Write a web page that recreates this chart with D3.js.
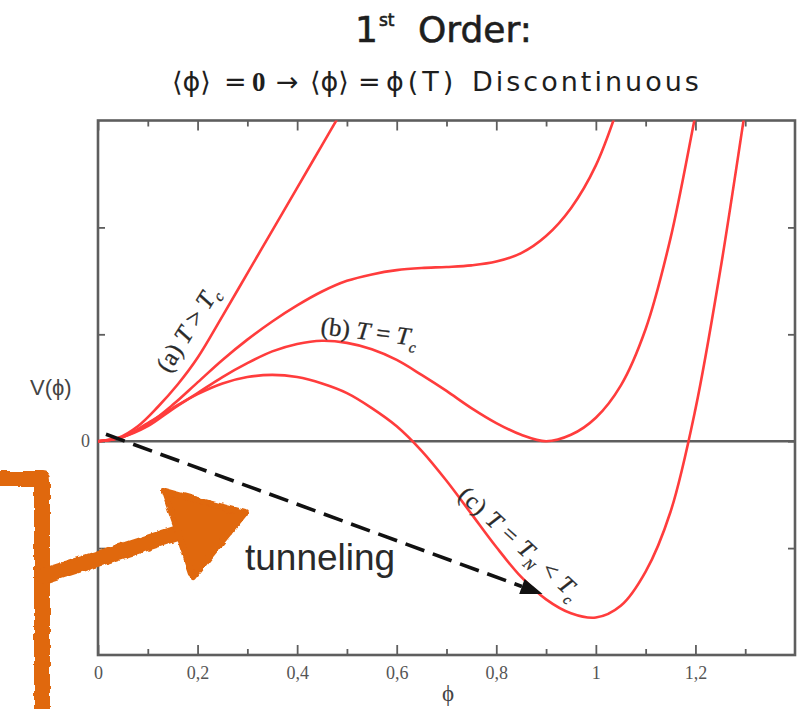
<!DOCTYPE html>
<html><head><meta charset="utf-8">
<script src="https://cdn.jsdelivr.net/npm/d3@7"></script>
<style>body{margin:0;background:#fff;} svg{display:block;}</style>
</head><body>
<svg id="chart" width="808" height="709"></svg>
<script>
// ---- data ----
const phiA = [0, 0.04, 0.08, 0.12, 0.16, 0.2, 0.25, 0.3, 0.35, 0.4, 0.45, 0.5];
const vA   = [0, 0.03, 0.14, 0.32, 0.53, 0.78, 1.17, 1.57, 1.97, 2.37, 2.77, 3.17];

const phiI = [0, 0.05, 0.1, 0.15, 0.2, 0.25, 0.3, 0.35, 0.4, 0.45, 0.5, 0.55, 0.6, 0.65, 0.7, 0.75, 0.8, 0.85, 0.9, 0.95, 1.0, 1.05];
const vI   = [0, 0.04, 0.16, 0.34, 0.55, 0.76, 0.95, 1.12, 1.27, 1.40, 1.50, 1.56, 1.60, 1.62, 1.63, 1.645, 1.68, 1.76, 1.92, 2.18, 2.58, 3.2];

const phiB = [0, 0.05, 0.1, 0.15, 0.2, 0.25, 0.3, 0.35, 0.4, 0.45, 0.5, 0.55, 0.6, 0.65, 0.7, 0.75, 0.8, 0.85, 0.9, 0.95, 1.0, 1.05, 1.1, 1.15, 1.2, 1.22];
const vB   = [0, 0.04, 0.14, 0.30, 0.45, 0.60, 0.73, 0.84, 0.91, 0.94, 0.92, 0.86, 0.76, 0.62, 0.47, 0.31, 0.17, 0.06, 0.0, 0.06, 0.22, 0.52, 1.05, 1.90, 3.05, 3.5];

const phiC = [0, 0.05, 0.1, 0.15, 0.2, 0.25, 0.3, 0.35, 0.4, 0.45, 0.5, 0.55, 0.6, 0.65, 0.7, 0.75, 0.8, 0.85, 0.9, 0.95, 1.0, 1.05, 1.1, 1.15, 1.2, 1.25, 1.3, 1.32];
const vC   = [0, 0.04, 0.17, 0.31, 0.44, 0.54, 0.60, 0.62, 0.60, 0.54, 0.45, 0.31, 0.14, -0.09, -0.37, -0.68, -0.99, -1.27, -1.48, -1.61, -1.65, -1.54, -1.22, -0.66, 0.30, 1.6, 3.1, 3.7];

const xMajorTicks = [0, 0.2, 0.4, 0.6, 0.8, 1, 1.2];
const xTickLabels = ["0", "0,2", "0,4", "0,6", "0,8", "1", "1,2"];
const xMinorTicks = [0.1, 0.3, 0.5, 0.7, 0.9, 1.1, 1.3];
const yTicks = [-1, 0, 1, 2];
const yTickLabels = ["", "0", "", ""];

const tunnelFrom = [0.016, 0.065];
const tunnelTo   = [0.893, -1.43];

// ---- layout ----
const svg = d3.select("#chart");
const L = 98, R = 795, T = 120.5, B = 655;
const x = d3.scaleLinear().domain([0, 1.4]).range([L, R]);
const y = d3.scaleLinear().domain([-2, 3]).range([B, T]);
const frameColor = "#5e5e5e";

const defs = svg.append("defs");
defs.append("clipPath").attr("id", "plotclip")
  .append("rect").attr("x", L).attr("y", T).attr("width", R - L).attr("height", B - T);
const rough = defs.append("filter").attr("id", "rough")
  .attr("x", "-10%").attr("y", "-10%").attr("width", "120%").attr("height", "120%");
rough.append("feTurbulence").attr("type", "fractalNoise").attr("baseFrequency", 0.12)
  .attr("numOctaves", 2).attr("seed", 3).attr("result", "noise");
rough.append("feDisplacementMap").attr("in", "SourceGraphic").attr("in2", "noise")
  .attr("scale", 5).attr("xChannelSelector", "R").attr("yChannelSelector", "G");

// ---- title ----
const title = svg.append("text").attr("x", 355).attr("y", 42)
  .attr("font-family", "DejaVu Sans").attr("font-size", 36).attr("fill", "#1e1e1e")
  .attr("stroke", "#1e1e1e").attr("stroke-width", 0.6);
title.append("tspan").text("1");
title.append("tspan").attr("font-size", 17).attr("dy", -16).attr("dx", 1).text("st");
title.append("tspan").attr("dy", 16).attr("x", 418).text("Order:");

// subtitle pieces placed along the line as in the reference
const subPieces = [
  { t: "⟨ϕ⟩", x: 172 },
  { t: "=", x: 224 },
  { t: "0", x: 252, bold: true },
  { t: "→", x: 276 },
  { t: "⟨ϕ⟩", x: 310 },
  { t: "=", x: 358 },
  { t: "ϕ(T)", x: 386, ls: 4 },
  { t: "Discontinuous", x: 472, ls: 3 }
];
const sub = svg.append("text").attr("y", 91)
  .attr("font-family", "DejaVu Sans").attr("font-size", 27).attr("fill", "#1e1e1e");
subPieces.forEach(p => {
  const s = sub.append("tspan").attr("x", p.x).text(p.t);
  if (p.bold) s.attr("font-family", "Liberation Serif").attr("font-weight", "bold");
  if (p.ls) s.attr("letter-spacing", p.ls);
});

// ---- axes ----
svg.append("g").attr("transform", `translate(0,${B})`)
  .call(d3.axisBottom(x).tickValues(xMajorTicks).tickSizeInner(-10).tickSizeOuter(0)
    .tickPadding(11).tickFormat((d, i) => xTickLabels[i]));
svg.append("g").attr("transform", `translate(0,${B})`)
  .call(d3.axisBottom(x).tickValues(xMinorTicks).tickSizeInner(-6).tickSizeOuter(0).tickFormat(""));
svg.append("g").attr("transform", `translate(0,${T})`)
  .call(d3.axisTop(x).tickValues(xMajorTicks).tickSizeInner(-10).tickSizeOuter(0).tickFormat(""));
svg.append("g").attr("transform", `translate(0,${T})`)
  .call(d3.axisTop(x).tickValues(xMinorTicks).tickSizeInner(-6).tickSizeOuter(0).tickFormat(""));
svg.append("g").attr("transform", `translate(${L},0)`)
  .call(d3.axisLeft(y).tickValues(yTicks).tickSizeInner(-7).tickSizeOuter(0)
    .tickPadding(8).tickFormat((d, i) => yTickLabels[i]));
svg.append("g").attr("transform", `translate(${R},0)`)
  .call(d3.axisRight(y).tickValues(yTicks).tickSizeInner(-7).tickSizeOuter(0).tickFormat(""));

svg.selectAll(".domain").remove();
svg.selectAll(".tick line").attr("stroke", frameColor).attr("stroke-width", 1.8);
svg.selectAll(".tick text").attr("font-family", "Liberation Serif").attr("font-size", 18).attr("fill", "#555");

svg.append("rect").attr("x", L).attr("y", T).attr("width", R - L).attr("height", B - T)
  .attr("fill", "none").attr("stroke", frameColor).attr("stroke-width", 2.6);
svg.append("line").attr("x1", x(0)).attr("x2", x(1.4)).attr("y1", y(0)).attr("y2", y(0))
  .attr("stroke", frameColor).attr("stroke-width", 2.6);

svg.append("text").attr("x", 30).attr("y", 395).attr("font-family", "Liberation Sans")
  .attr("font-size", 22).attr("fill", "#444").text("V(ϕ)");
svg.append("text").attr("x", 448).attr("y", 701).attr("text-anchor", "middle")
  .attr("font-family", "Liberation Serif").attr("font-size", 23).attr("fill", "#444").text("ϕ");

// ---- curves ----
const series = [
  { phi: phiA, v: vA },
  { phi: phiI, v: vI },
  { phi: phiB, v: vB },
  { phi: phiC, v: vC }
];
const line = d3.line().x(d => x(d[0])).y(d => y(d[1])).curve(d3.curveCatmullRom.alpha(0.5));
svg.append("g").attr("clip-path", "url(#plotclip)")
  .selectAll("path").data(series).join("path")
  .attr("d", s => line(s.phi.map((p, i) => [p, s.v[i]])))
  .attr("fill", "none").attr("stroke", "#ff3c3c").attr("stroke-width", 2.6);

// ---- curve labels ----
function curveLabel(px, py, angle, parts, size, ls) {
  const t = svg.append("text").attr("transform", `translate(${px},${py}) rotate(${angle})`)
    .attr("font-family", "Liberation Serif").attr("font-size", size).attr("fill", "#2a2a2a")
    .attr("stroke", "#2a2a2a").attr("stroke-width", 0.3).attr("letter-spacing", ls || 0);
  parts.forEach(p => {
    const s = t.append("tspan").text(p.t);
    if (p.i) s.attr("font-style", "italic");
    if (p.small) s.attr("font-size", size * 0.62);
    if (p.dy) s.attr("dy", p.dy);
  });
}
curveLabel(169, 374, -58, [{t: "(a) "}, {t: "T", i: 1}, {t: " > "}, {t: "T", i: 1}, {t: "c", i: 1, small: 1, dy: 6}], 25);
curveLabel(320, 334, 7, [{t: "(b) "}, {t: "T", i: 1}, {t: " = "}, {t: "T", i: 1}, {t: "c", i: 1, small: 1, dy: 7}], 25);
curveLabel(457, 497, 42, [{t: "(c) "}, {t: "T", i: 1}, {t: " = "}, {t: "T", i: 1}, {t: "N", i: 1, small: 1, dy: 7},
  {t: " < ", dy: -7}, {t: "T", i: 1}, {t: "c", i: 1, small: 1, dy: 7}], 24, 1);

// ---- tunneling arrow ----
const x0 = x(tunnelFrom[0]), y0 = y(tunnelFrom[1]), x1 = x(tunnelTo[0]), y1 = y(tunnelTo[1]);
const ang = Math.atan2(y1 - y0, x1 - x0), hl = 22, hw = 8;
const bx = x1 - hl * Math.cos(ang), by = y1 - hl * Math.sin(ang);
svg.append("line").attr("x1", x0).attr("y1", y0).attr("x2", bx).attr("y2", by)
  .attr("stroke", "#111").attr("stroke-width", 3.6).attr("stroke-dasharray", "20 9");
svg.append("path").attr("d", `M${x1},${y1}L${bx + hw * Math.sin(ang)},${by - hw * Math.cos(ang)}L${bx - hw * Math.sin(ang)},${by + hw * Math.cos(ang)}Z`)
  .attr("fill", "#111");
svg.append("text").attr("x", 245).attr("y", 570).attr("font-family", "Liberation Sans")
  .attr("font-size", 37).attr("fill", "#2a2a2a").text("tunneling");

// ---- orange hand-drawn annotation ----
const og = svg.append("g").attr("filter", "url(#rough)");
const orange = "#e0670f";
og.append("path").attr("d", "M-6,479 L42,479 L42,716").attr("fill", "none")
  .attr("stroke", orange).attr("stroke-width", 16).attr("stroke-linejoin", "round");
og.append("path").attr("d", "M44,576 L178,533").attr("fill", "none")
  .attr("stroke", orange).attr("stroke-width", 16).attr("stroke-linecap", "round");
og.append("path").attr("d", "M164,491 L245,513 L193,577 Z").attr("fill", orange)
  .attr("stroke", orange).attr("stroke-width", 6).attr("stroke-linejoin", "round");
</script>
</body></html>
